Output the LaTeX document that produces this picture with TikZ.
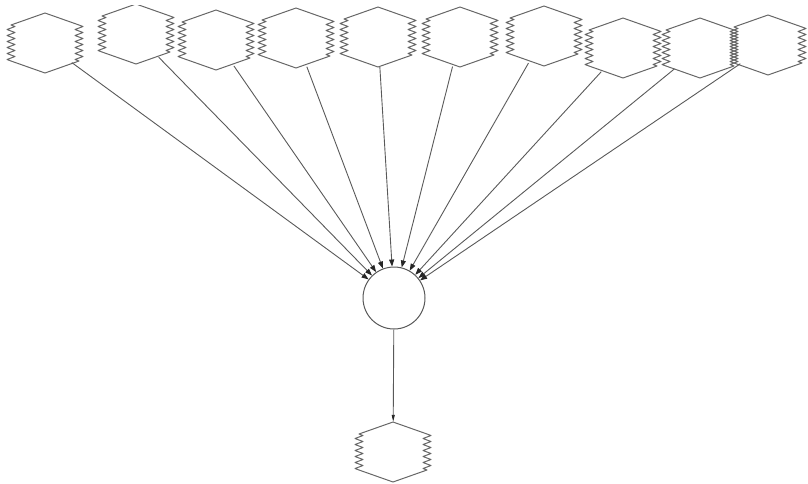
\documentclass[tikz,border=0pt]{standalone}
\usetikzlibrary{shapes.geometric,arrows.meta,decorations.pathmorphing}
\begin{document}
\begin{tikzpicture}[x=1pt,y=-1pt,
  hexn/.style={ellipse,minimum width=70pt,minimum height=60pt,inner sep=0pt,draw=none},
  hexline/.style={draw=black!60,line width=1pt,line join=round},
  zz/.style={decoration={zigzag,segment length=6pt,amplitude=4pt}},
  edge/.style={draw=black!65,line width=0.9pt,-{Triangle[length=7pt,width=5pt,color=black!85]}},
  circ/.style={circle,draw=black!65,line width=1pt,minimum size=62pt,inner sep=0pt}]
\useasboundingbox (0,0) rectangle (808,483);
\clip (0,5.5) rectangle (808,483);
\node[hexn] (h1) at (45,43) {};
\node[hexn] (h2) at (136,34) {};
\node[hexn] (h3) at (216,40) {};
\node[hexn] (h4) at (296,38) {};
\node[hexn] (h5) at (378,37) {};
\node[hexn] (h6) at (460,37) {};
\node[hexn] (h7) at (544,36) {};
\node[hexn] (h8) at (623,48) {};
\node[hexn] (h9) at (700,48) {};
\node[hexn] (h10) at (768,45) {};
\node[circ] (c) at (394,298) {};
\node[hexn] (hb) at (393,452) {};
\foreach \n in {h1,h2,h3,h4,h5,h6,h7,h8,h9,h10,hb}{
  \draw[hexline] ([shift={(0,-30)}]\n.center) -- ([shift={(34,-18)}]\n.center)
    decorate[zz]{ -- ([shift={(34,18)}]\n.center)}
    -- ([shift={(0,30)}]\n.center) -- ([shift={(-34,18)}]\n.center)
    decorate[zz]{ -- ([shift={(-34,-18)}]\n.center)}
    -- ([shift={(0,-30)}]\n.center);
}
\foreach \n in {h1,h2,h3,h4,h5,h6,h7,h8,h9,h10}{
  \draw[edge] (\n) -- (c);
}
\draw[edge,-{Triangle[length=7pt,width=3pt,color=black!85]}] (c) -- (hb);
\end{tikzpicture}
\end{document}
